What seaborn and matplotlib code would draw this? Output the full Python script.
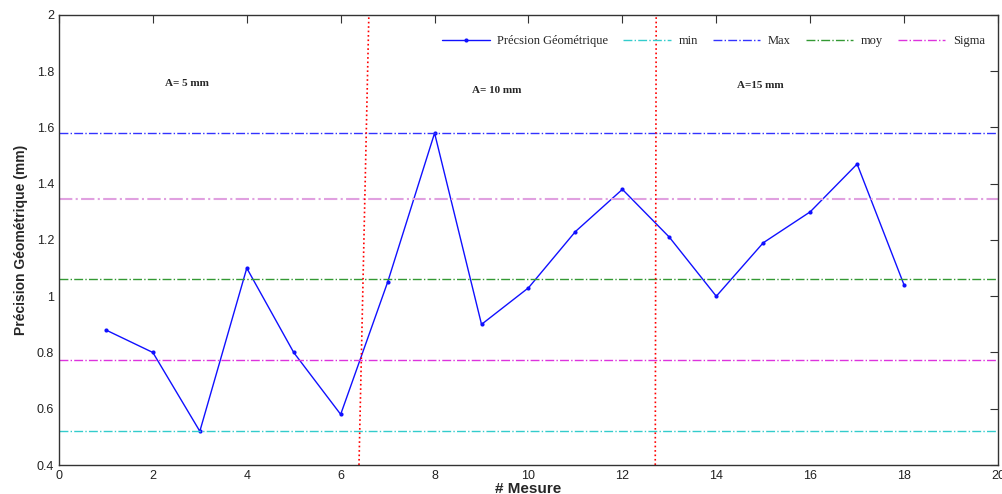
import seaborn as sns
import matplotlib.pyplot as plt
import pandas as pd

# measurements
mesure = list(range(1, 19))
precision = [0.88, 0.80, 0.52, 1.10, 0.80, 0.58, 1.05, 1.58, 0.90,
             1.03, 1.23, 1.38, 1.21, 1.00, 1.19, 1.30, 1.47, 1.04]

# reference levels
val_min = 0.52
val_max = 1.58
val_moy = 1.06
sigma_up = 1.345
sigma_low = 0.773

# separators between the A groups (x at bottom, x at top)
sep1_x = [6.39, 6.60]
sep2_x = [12.70, 12.72]
sep_y = [0.4, 2.0]

group_labels = ['A= 5 mm', 'A= 10 mm', 'A=15 mm']
group_x = [2.25, 8.8, 14.45]
group_y = [1.757, 1.732, 1.748]

sns.set_style('white')
plt.rcParams['font.family'] = ['Liberation Sans', 'DejaVu Sans']

fig = plt.figure(figsize=(10.03, 4.94), dpi=100)
ax = fig.add_axes([0.0588, 0.0587, 0.9362, 0.911])

df = pd.DataFrame({'mesure': mesure, 'precision': precision})
sns.lineplot(data=df, x='mesure', y='precision', ax=ax, color='#1010ff',
             marker='.', markersize=6, markeredgewidth=0, linewidth=1,
             label='Précsion Géométrique')

xr = [0, 20]
ax.plot(xr, [val_min] * 2, color='#33cccc', ls='-.', lw=1, label='min')
ax.plot(xr, [val_max] * 2, color='#3333ff', ls='-.', lw=1, label='Max')
ax.plot(xr, [val_moy] * 2, color='#339933', ls='-.', lw=1, label='moy')
ax.plot(xr, [sigma_low] * 2, color='#dd33dd', ls='-.', lw=1, label='Sigma')
ax.plot(xr, [sigma_up] * 2, color='#e0a0e0', ls='-.', lw=1.5)

ax.plot(sep1_x, sep_y, color='red', ls=':', lw=1.2)
ax.plot(sep2_x, sep_y, color='red', ls=':', lw=1.2)

for lab, gx, gy in zip(group_labels, group_x, group_y):
    ax.text(gx, gy, lab, fontsize=8, fontweight='bold',
            family=['Liberation Serif'], va='center')

ax.set_xlim(0, 20)
ax.set_ylim(0.4, 2.0)
ax.set_xticks(range(0, 21, 2))
ax.set_yticks([0.4, 0.6, 0.8, 1.0, 1.2, 1.4, 1.6, 1.8, 2.0])
ax.set_yticklabels(['0.4', '0.6', '0.8', '1', '1.2', '1.4', '1.6', '1.8', '2'])
ax.tick_params(direction='in', length=6, top=True, right=True,
               labelsize=9, colors='#333333', labelcolor='#222222')
for s in ax.spines.values():
    s.set_color('#333333')
    s.set_linewidth(1)

ax.set_xlabel('# Mesure', fontsize=11, fontweight='bold', labelpad=0)
ax.set_ylabel('Précision Géométrique (mm)', fontsize=10, fontweight='bold', labelpad=6)

leg = ax.legend(loc='upper right', ncol=5, frameon=False,
                prop={'family': 'Liberation Serif', 'size': 9},
                bbox_to_anchor=(0.998, 0.98), handlelength=3.8,
                handletextpad=0.6, columnspacing=1.2)

fig.savefig('out.png', dpi=100)
